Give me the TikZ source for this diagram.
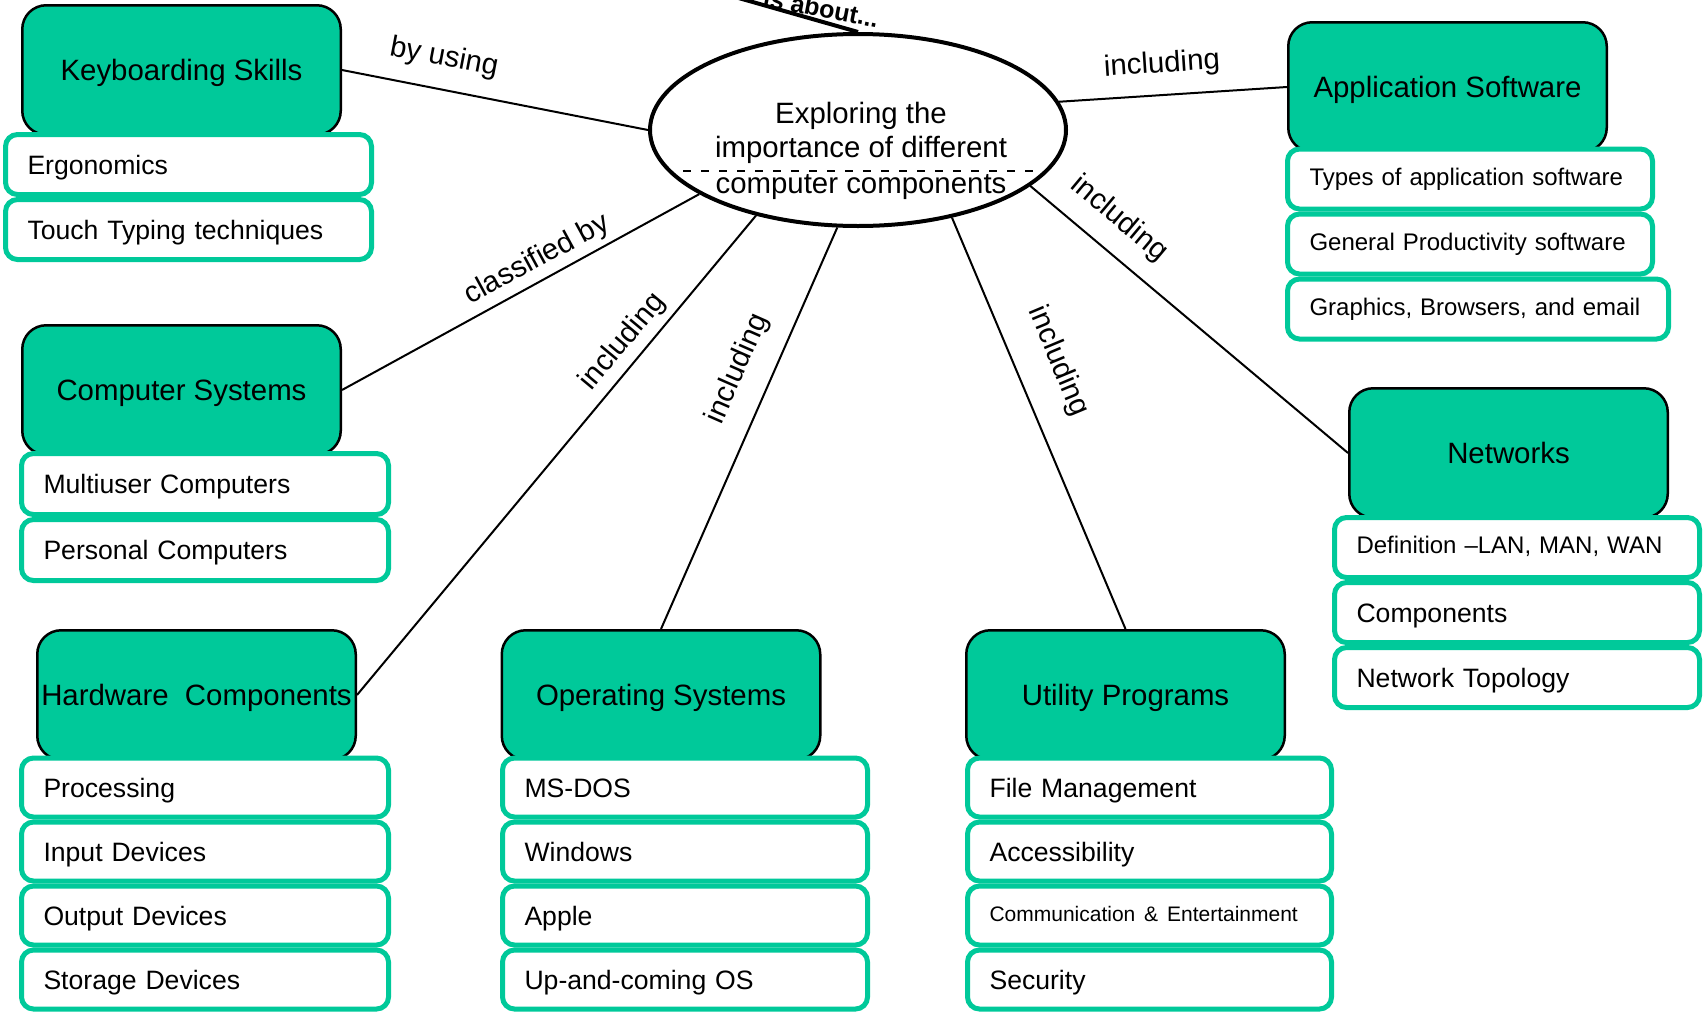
\documentclass[tikz,border=0pt]{standalone}
\usepackage{fontspec}
\setmainfont{Liberation Sans}
\usetikzlibrary{shapes.geometric}
\definecolor{teal1}{HTML}{00C99A}
\begin{document}
\begin{tikzpicture}[x=1pt,y=-1pt,
  mainbox/.style={draw=black, line width=2.5pt, fill=teal1, rounded corners=24pt, minimum width=318.5pt, minimum height=129.5pt, inner sep=0pt, font=\fontsize{29.4}{35}\selectfont, text height=21pt, text depth=0pt},
  subbox/.style={draw=teal1, line width=5pt, fill=white, rounded corners=12pt, inner xsep=22pt, inner ysep=0pt, align=left, font=\fontsize{26.6}{31}\selectfont, text height=19pt, text depth=0pt, minimum height=59pt},
  smallsub/.style={font=\fontsize{24}{29}\selectfont, text height=17.2pt},
  lbl/.style={font=\fontsize{29.4}{35}\selectfont, inner sep=0pt},
  conn/.style={line width=2pt},
  elltext/.style={font=\fontsize{29.4}{35}\selectfont, inner sep=0pt, anchor=base}
]
\useasboundingbox (0,0) rectangle (1707,1015);
\clip (0,0) rectangle (1707,1015);

% main boxes
\node[mainbox] (ks) at (181.5,70) {Keyboarding Skills};
\node[mainbox] (cs) at (181.5,390) {Computer Systems};
\node[mainbox] (hw) at (196.5,695) {Hardware\ \ Components};
\node[mainbox] (os) at (661,695) {Operating Systems};
\node[mainbox] (ut) at (1125.5,695) {Utility Programs};
\node[mainbox] (as) at (1447.5,87) {Application Software};
\node[mainbox] (nw) at (1508.5,453) {Networks};

% sub items
\node[subbox, text width=322pt, minimum height=60pt] (ks1) at (188.5,164.5) {Ergonomics};
\node[subbox, text width=322pt, minimum height=60pt] (ks2) at (188.5,229.5) {Touch Typing techniques};

\node[subbox, text width=323pt, minimum height=61pt] (cs1) at (205,484) {Multiuser Computers};
\node[subbox, text width=323pt, minimum height=61pt] (cs2) at (205,550) {Personal Computers};

\node[subbox, text width=323pt] (hw1) at (205,787.5) {Processing};
\node[subbox, text width=323pt] (hw2) at (205,851.5) {Input Devices};
\node[subbox, text width=323pt] (hw3) at (205,915.5) {Output Devices};
\node[subbox, text width=323pt] (hw4) at (205,979.5) {Storage Devices};

\node[subbox, text width=321pt] (os1) at (685,787.5) {MS-DOS};
\node[subbox, text width=321pt] (os2) at (685,851.5) {Windows};
\node[subbox, text width=321pt] (os3) at (685,915.5) {Apple};
\node[subbox, text width=321pt] (os4) at (685,979.5) {Up-and-coming OS};

\node[subbox, text width=320pt] (ut1) at (1149.5,787.5) {File Management};
\node[subbox, text width=320pt] (ut2) at (1149.5,851.5) {Accessibility};
\node[subbox, text width=320pt] (ut3) at (1149.5,915.5) {\raisebox{4pt}{\fontsize{21}{25}\selectfont Communication \& Entertainment}};
\node[subbox, text width=320pt] (ut4) at (1149.5,979.5) {Security};

\node[subbox, smallsub, text width=321pt, minimum height=60pt] (as1) at (1470,179) {\raisebox{2.5pt}{Types of application software}};
\node[subbox, smallsub, text width=321pt, minimum height=60pt] (as2) at (1470,244) {\raisebox{2pt}{General Productivity software}};
\node[subbox, smallsub, text width=337pt, minimum height=60pt] (as3) at (1478,309) {\raisebox{2pt}{Graphics, Browsers, and email}};

\node[subbox, smallsub, text width=321pt, minimum height=60pt] (nw1) at (1517,547.5) {\raisebox{3pt}{Definition –LAN, MAN, WAN}};
\node[subbox, text width=321pt, minimum height=60pt] (nw2) at (1517,612.5) {Components};
\node[subbox, text width=321pt, minimum height=60pt] (nw3) at (1517,677.5) {Network Topology};

% central ellipse
\node[ellipse, draw, line width=4pt, fill=white, minimum width=416pt, minimum height=192pt, inner sep=0pt] (ell) at (858,130) {};
\coordinate (dl) at (683,171);
\coordinate (dr) at (1038,171);
\draw[line width=2pt, dash pattern=on 8pt off 10pt] (dl) -- (dr);
\node[elltext] (e1) at (861,123) {Exploring the};
\node[elltext] (e2) at (861,157) {importance of different};
\node[elltext] (e3) at (861,193) {computer components};

% top connector
\node[font=\bfseries\fontsize{25}{30}\selectfont, rotate=-11, anchor=base east, inner sep=0pt] (about) at (877,28) {is about...};
\coordinate (topc) at (700,-13);
\draw[line width=4pt] (topc) -- (ell.north);

% connectors
\draw[conn] (ks.east) -- (ell.west);
\draw[conn] (ell.8.4) -- (as.west);
\draw[conn] (ell.202) -- (cs.east);
\draw[conn] (ell.220.2) -- (hw.east);
\draw[conn] (ell.258) -- (os.north);
\draw[conn] (ell.317.2) -- (ut.north);
\draw[conn] (ell.342.6) -- (nw.west);

% labels
\node[lbl, rotate=-10.8] (l1) at (444,58) {by using};
\node[lbl, rotate=3.8] (l2) at (1162,65) {including};
\node[lbl, rotate=28.5] (l3) at (537,260) {classified by};
\node[lbl, rotate=50.2] (l4) at (623,342) {including};
\node[lbl, rotate=66.3] (l5) at (738,369) {including};
\node[lbl, rotate=-67.3] (l6) at (1058,361) {including};
\node[lbl, rotate=-39.9] (l7) at (1119,219) {including};
\end{tikzpicture}
\end{document}
